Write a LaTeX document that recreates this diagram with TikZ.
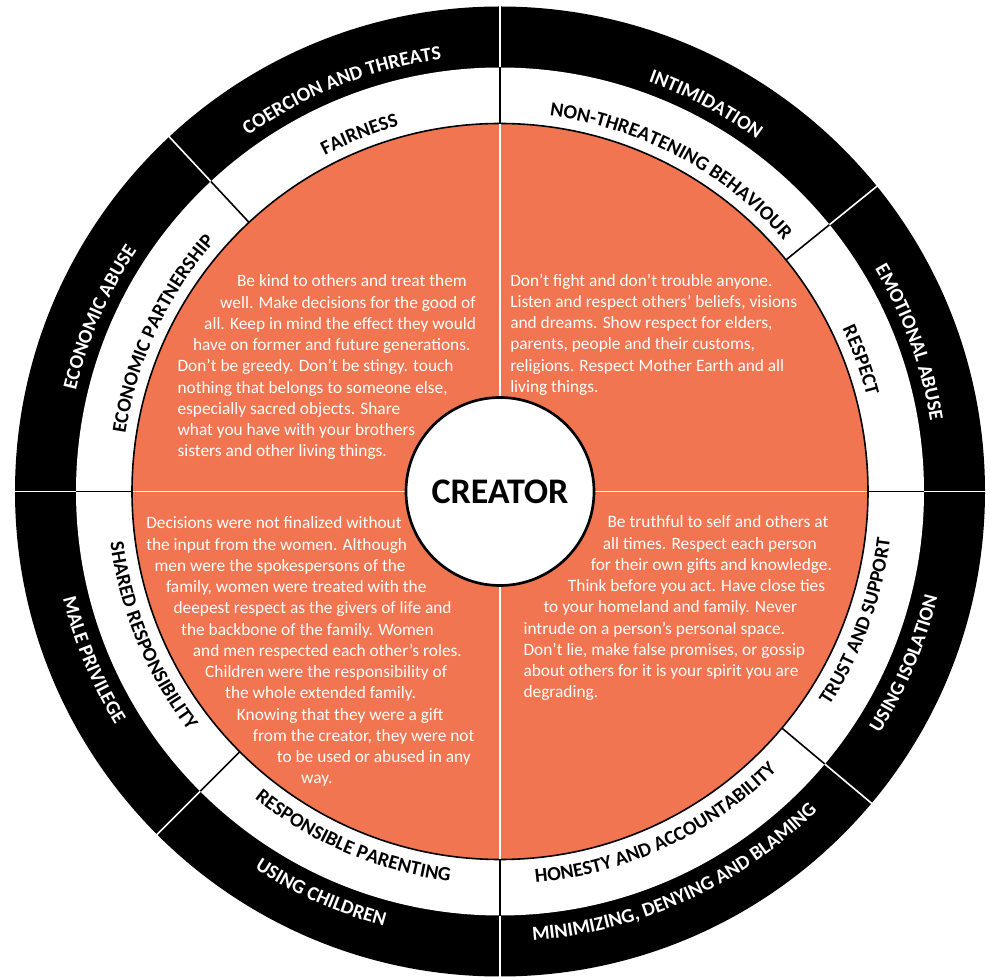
\documentclass[tikz,border=0pt]{standalone}
\usepackage{fontspec}
\setmainfont{Carlito}
\usetikzlibrary{decorations.text}
\definecolor{wheelorange}{RGB}{241,117,81}
\newcommand{\lblfont}{\fontsize{15}{18}\selectfont\bfseries}

\begin{document}
\begin{tikzpicture}[x=0.75pt,y=0.75pt,
  bodytext/.style={align=left,inner sep=0pt,text=white,anchor=base west,
    font=\fontsize{13}{15.94}\selectfont},
  outerlabel/.style={decorate,decoration={text along path,text align=center,
    text={|\color{white}\lblfont|#1}}},
  innerlabel/.style={decorate,decoration={text along path,text align=center,
    text={|\lblfont|#1}}}]
\useasboundingbox (0,0) rectangle (990,976);

\begin{scope}[shift={(500,484.5)}]
% rings
\fill[black] (0,0) circle (485);
\fill[white] (0,0) circle (424);
\filldraw[fill=wheelorange,draw=black,line width=1.2pt] (0,0) circle (368);
\foreach \a in {0,90,180,270}
  \draw[white,line width=1.2pt] (\a:94) -- (\a:367);
\foreach \a in {0,39,90,133,180,225,270,320} {
  \draw[black,line width=1.2pt] (\a:368) -- (\a:424);
  \draw[white,line width=1.2pt] (\a:424) -- (\a:486);
}
% upper half, read clockwise
\path[outerlabel={COERCION AND THREATS}] (146.5:436) arc[start angle=146.5,end angle=76.5,radius=436];
\path[innerlabel={FAIRNESS}] (146.5:379) arc[start angle=146.5,end angle=76.5,radius=379];
\path[outerlabel={INTIMIDATION}] (97:436) arc[start angle=97,end angle=27,radius=436];
\path[innerlabel={NON-THREATENING BEHAVIOUR}] (97:379) arc[start angle=97,end angle=27,radius=379];
\path[outerlabel={EMOTIONAL ABUSE}] (55:436) arc[start angle=55,end angle=-15,radius=436];
\path[innerlabel={RESPECT}] (55:379) arc[start angle=55,end angle=-15,radius=379];
\path[outerlabel={ECONOMIC ABUSE}] (191.5:436) arc[start angle=191.5,end angle=121.5,radius=436];
\path[innerlabel={ECONOMIC PARTNERSHIP}] (190:379) arc[start angle=190,end angle=120,radius=379];
% lower half, read counterclockwise
\path[outerlabel={MALE PRIVILEGE}] (167.5:450) arc[start angle=167.5,end angle=237.5,radius=450];
\path[innerlabel={SHARED RESPONSIBILITY}] (167.5:393) arc[start angle=167.5,end angle=237.5,radius=393];
\path[outerlabel={USING CHILDREN}] (211:450) arc[start angle=211,end angle=281,radius=450];
\path[innerlabel={RESPONSIBLE PARENTING}] (212:393) arc[start angle=212,end angle=282,radius=393];
\path[outerlabel={MINIMIZING, DENYING AND BLAMING}] (259.5:450) arc[start angle=259.5,end angle=329.5,radius=450];
\path[innerlabel={HONESTY AND ACCOUNTABILITY}] (260:393) arc[start angle=260,end angle=330,radius=393];
\path[outerlabel={USING ISOLATION}] (302:450) arc[start angle=302,end angle=372,radius=450];
\path[innerlabel={TRUST AND SUPPORT}] (305:393) arc[start angle=305,end angle=375,radius=393];
% hub
\node[circle,draw=black,fill=white,line width=2pt,minimum size=141pt,inner sep=0pt,
  font=\fontsize{27}{31}\selectfont\bfseries] (creator) at (0,0) {CREATOR};
\end{scope}

\node[bodytext] (fairnesstext) at (177.3,519) {%
\hspace*{44.6pt}Be kind to others and treat them\\
\hspace*{32pt}well.  Make decisions for the good of\\
\hspace*{20pt}all.  Keep in mind the effect they would\\
\hspace*{11.6pt}have on former and future generations.\\
Don’t be greedy. Don’t be stingy. touch\\
nothing that belongs to someone else,\\
especially sacred objects.  Share\\
what you have with your brothers\\
sisters and other living things.};
\node[bodytext] (respecttext) at (510,583.5) {%
Don’t fight and don’t trouble anyone.\\
Listen and respect others’ beliefs, visions\\
and dreams. Show respect for elders,\\
parents, people and their customs,\\
religions. Respect Mother Earth and all\\
living things.};
\node[bodytext] (sharedtext) at (146,192) {%
Decisions were not finalized without\\
the input from the women. Although\\
\hspace*{6.2pt}men were the spokespersons of the\\
\hspace*{14.8pt}family, women were treated with the\\
\hspace*{20.5pt}deepest respect as the  givers of life and\\
\hspace*{26.2pt}the backbone of the family.  Women\\
\hspace*{35pt}and men respected each other’s roles.\\
\hspace*{44.2pt}Children were the responsibility of\\
\hspace*{59.2pt}the whole extended family.\\
\hspace*{68pt}Knowing that they were a gift\\
\hspace*{80pt}from the creator, they were not\\
\hspace*{98pt}to be used or abused in any\\
\hspace*{116.2pt}way.};
\node[bodytext] (trusttext) at (523.3,278) {%
\hspace*{63pt}Be truthful to self and others at\\
\hspace*{59.5pt}all times. Respect each person\\
\hspace*{50.5pt}for their own gifts and knowledge.\\
\hspace*{33.3pt}Think before you act. Have close ties\\
\hspace*{15pt}to your homeland and family. Never\\
intrude on a person’s personal space.\\
Don’t lie, make false promises, or gossip\\
about others for it is your spirit you are\\
degrading.};
\end{tikzpicture}
\end{document}
